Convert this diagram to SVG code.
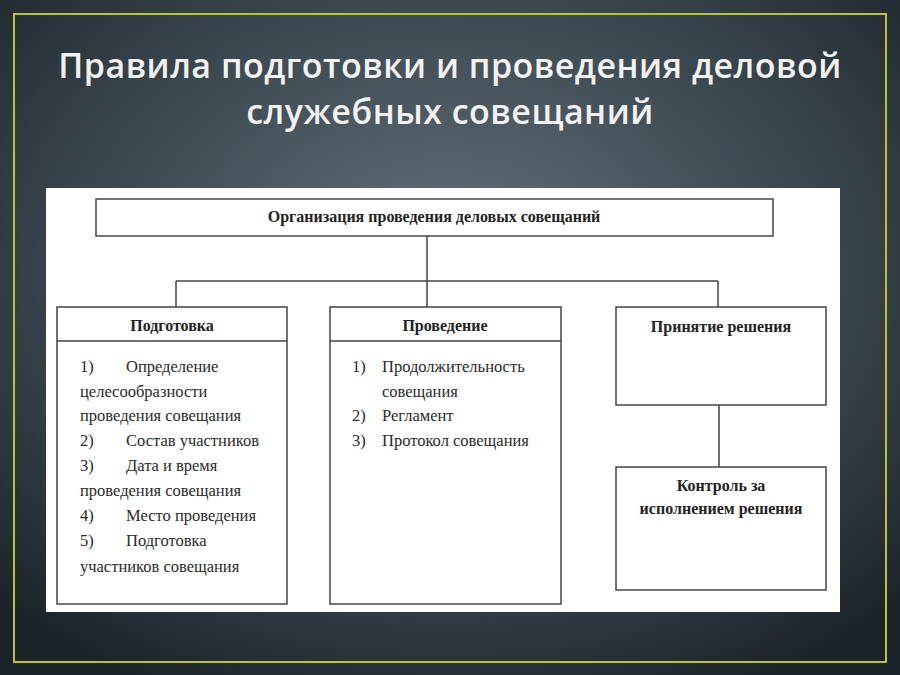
<svg xmlns="http://www.w3.org/2000/svg" width="900" height="675" viewBox="0 0 900 675">
<defs>
<radialGradient id="bg" cx="0.5" cy="0.4" r="0.7">
<stop offset="0" stop-color="#66737c"/><stop offset="0.6" stop-color="#3a464e"/><stop offset="1" stop-color="#1c2429"/>
</radialGradient>
</defs>
<style>
.box{fill:#fff;stroke:#444;stroke-width:1.5}
.ln{stroke:#444;stroke-width:1.5;fill:none}
.h{font-family:"Liberation Serif",serif;font-weight:bold;font-size:16px;fill:#222;text-anchor:middle}
.t{font-family:"Liberation Serif",serif;font-size:16.5px;fill:#2a2a2a}
.title{font-family:"Open Sans","Noto Sans",sans-serif;font-size:34px;font-weight:600;fill:#f2f2f2;text-anchor:middle;letter-spacing:0.5px}
</style>
<rect width="900" height="675" fill="url(#bg)"/>
<rect x="14" y="14" width="872" height="648" fill="none" stroke="#b8c23a" stroke-width="2"/>
<text class="title" x="450" y="78">Правила подготовки и проведения деловой</text>
<text class="title" x="450" y="124">служебных совещаний</text>
<rect x="46" y="188" width="794" height="424" fill="#fff"/>
<g id="connectors">
<path class="ln" d="M427 236V281M176 281H718M176 281V307M427 281V307M718 281V307M719 405V467"/>
</g>
<g id="root"><rect class="box" x="96" y="199" width="677" height="37"/><text class="h" x="434" y="222">Организация проведения деловых совещаний</text></g>
<g id="prep"><rect class="box" x="57" y="307" width="230" height="297"/><path class="ln" d="M57 341H287"/><text class="h" x="172" y="331">Подготовка</text>
<text class="t"><tspan x="80" y="372">1)</tspan><tspan x="126" y="372">Определение</tspan><tspan x="80" y="397">целесообразности</tspan><tspan x="80" y="421">проведения совещания</tspan><tspan x="80" y="446">2)</tspan><tspan x="126" y="446">Состав участников</tspan><tspan x="80" y="471">3)</tspan><tspan x="126" y="471">Дата и время</tspan><tspan x="80" y="496">проведения совещания</tspan><tspan x="80" y="521">4)</tspan><tspan x="126" y="521">Место проведения</tspan><tspan x="80" y="546">5)</tspan><tspan x="126" y="546">Подготовка</tspan><tspan x="80" y="572">участников совещания</tspan></text></g>
<g id="conduct"><rect class="box" x="330" y="307" width="231" height="297"/><path class="ln" d="M330 341H561"/><text class="h" x="445" y="331">Проведение</text>
<text class="t"><tspan x="352" y="372">1)</tspan><tspan x="382" y="372">Продолжительность</tspan><tspan x="382" y="397">совещания</tspan><tspan x="352" y="421">2)</tspan><tspan x="382" y="421">Регламент</tspan><tspan x="352" y="446">3)</tspan><tspan x="382" y="446">Протокол совещания</tspan></text></g>
<g id="decision"><rect class="box" x="616" y="307" width="210" height="98"/><text class="h" x="721" y="332">Принятие решения</text></g>
<g id="control"><rect class="box" x="616" y="467" width="210" height="123"/><text class="h" x="721" y="491">Контроль за</text><text class="h" x="721" y="514">исполнением решения</text></g>
</svg>
